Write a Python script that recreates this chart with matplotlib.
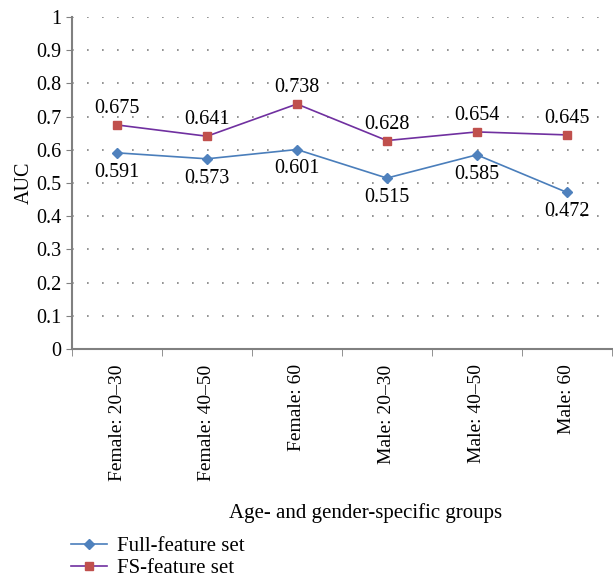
import numpy as np
import matplotlib.pyplot as plt

plt.rcParams['font.family'] = ['Liberation Serif', 'DejaVu Serif']

# data
groups = ["Female: 20\u201330", "Female: 40\u201350", "Female: 60",
          "Male: 20\u201330", "Male: 40\u201350", "Male: 60"]
full_auc = [0.591, 0.573, 0.601, 0.515, 0.585, 0.472]
fs_auc = [0.675, 0.641, 0.738, 0.628, 0.654, 0.645]

fig = plt.figure(figsize=(6.13, 5.77), dpi=100)
ax = fig.add_axes([0.1175, 0.395, 0.8805, 0.5755])

x = np.arange(len(groups))
ax.plot(x, full_auc, color='#4a7ebb', lw=1.2, marker='D', ms=5,
        mfc='#4f81bd', mec='#4f81bd', label='Full-feature set', zorder=3)
ax.plot(x, fs_auc, color='#7030a0', lw=1.2, marker='s', ms=6,
        mfc='#c0504d', mec='#c0504d', label='FS-feature set', zorder=3)

for xi, v in zip(x, full_auc):
    ax.annotate(f"{v:.3f}", (xi, v), xytext=(0, -7), textcoords='offset points',
                ha='center', va='top', fontsize=14.5)
for xi, v in zip(x, fs_auc):
    ax.annotate(f"{v:.3f}", (xi, v), xytext=(0, 5), textcoords='offset points',
                ha='center', va='bottom', fontsize=14.5)

ax.set_xlim(-0.5, len(groups) - 0.5)
ax.set_ylim(0, 1)
ax.set_yticks(np.arange(0, 1.01, 0.1))
ax.set_yticklabels(['0'] + [f"{t:.1f}" for t in np.arange(0.1, 0.95, 0.1)] + ['1'])
ax.yaxis.grid(True, linestyle=(0, (1, 8)), color='#808080', lw=1.2)
ax.set_axisbelow(True)

ax.set_xticks(x)
ax.set_xticklabels(groups, rotation=90, fontsize=14)
ax.set_xticks(np.arange(-0.5, len(groups)), minor=True)
ax.tick_params(axis='x', which='major', length=0, pad=11)
ax.tick_params(axis='x', which='minor', length=5, color='#808080')
ax.tick_params(axis='y', length=4, color='#808080', labelsize=14.5)

for s in ['top', 'right']:
    ax.spines[s].set_visible(False)
for s in ['left', 'bottom']:
    ax.spines[s].set_color('#808080')
    ax.spines[s].set_linewidth(1.5)

ax.set_ylabel('AUC', fontsize=14.5, labelpad=2)
fig.text(0.597, 0.11, 'Age- and gender-specific groups', ha='center', va='center', fontsize=15)

ax.legend(loc='upper left', bbox_to_anchor=(0.0995, 0.088), bbox_transform=fig.transFigure,
          frameon=False, fontsize=15, handlelength=1.7, handletextpad=0.5,
          labelspacing=0.1, borderpad=0)

fig.savefig('out.png', dpi=100)
